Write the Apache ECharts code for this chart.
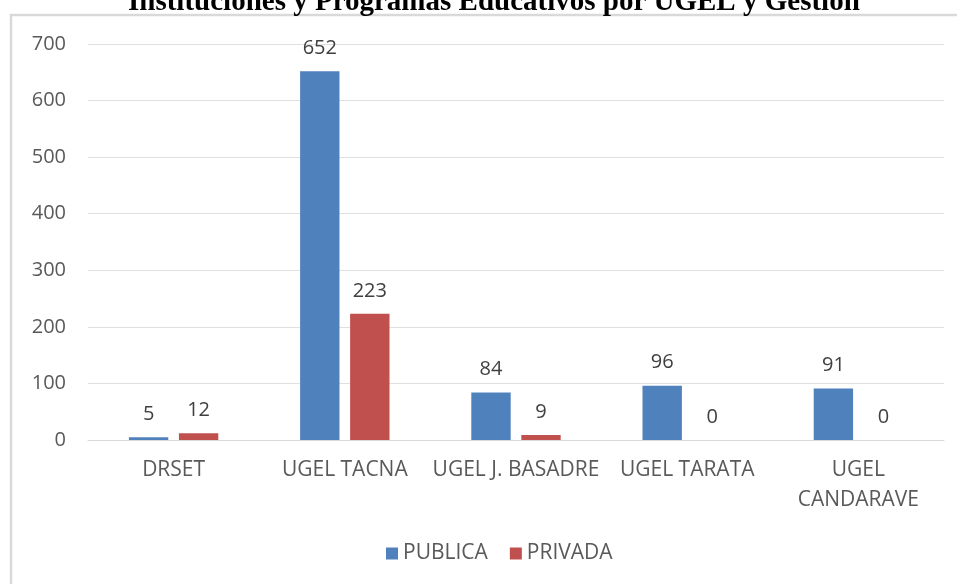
<!DOCTYPE html>
<html><head><meta charset="utf-8">
<script src="https://cdn.jsdelivr.net/npm/echarts@6/dist/echarts.min.js"></script>
<style>html,body{margin:0;padding:0;background:#fff}#c{width:957px;height:584px}</style>
</head><body><div id="c"></div>
<script>
const categories = ['DRSET', 'UGEL TACNA', 'UGEL J. BASADRE', 'UGEL TARATA', 'UGEL\nCANDARAVE'];
const publica = [5, 652, 84, 96, 91];
const privada = [12, 223, 9, 0, 0];
const seriesNames = ['PUBLICA', 'PRIVADA'];
const titleText = 'Instituciones y Programas Educativos por UGEL y Gestión';

const chart = echarts.init(document.getElementById('c'));
const font = 'Open Sans';
const lbl = {show: true, position: 'top', distance: 13, color: '#404040', fontSize: 20, fontFamily: font};
chart.setOption({
  animation: false,
  title: {text: titleText, left: 123, top: -17,
    textStyle: {fontFamily: 'Liberation Serif', fontWeight: 'bold', fontSize: 29, color: '#000'}},
  graphic: [{type: 'rect', z: -1, shape: {x: 11, y: 15, width: 980, height: 620},
    style: {fill: 'none', stroke: '#d9d9d9', lineWidth: 2.5}}],
  legend: {bottom: 15, left: 381, itemWidth: 12, itemHeight: 12, itemGap: 22,
    icon: 'rect', textStyle: {color: '#595959', fontSize: 21, fontFamily: font}, data: seriesNames},
  grid: {left: 88, right: 13, top: 44, bottom: 144},
  xAxis: {type: 'category', data: categories,
    axisLine: {lineStyle: {color: '#d9d9d9', width: 1}}, axisTick: {show: false},
    axisLabel: {color: '#595959', fontSize: 21, fontFamily: font, margin: 15, interval: 0, lineHeight: 30}},
  yAxis: {type: 'value', min: 0, max: 700, interval: 100,
    axisLine: {show: false}, axisTick: {show: false},
    splitLine: {lineStyle: {color: '#e0e0e0'}},
    axisLabel: {color: '#595959', fontSize: 20, fontFamily: font, margin: 22}},
  series: [
    {name: seriesNames[0], type: 'bar', data: publica, barWidth: '23%', barGap: '27%',
      itemStyle: {color: '#4F81BD'}, label: lbl},
    {name: seriesNames[1], type: 'bar', data: privada, barWidth: '23%',
      itemStyle: {color: '#C0504D'}, label: lbl}
  ]
});
</script></body></html>
